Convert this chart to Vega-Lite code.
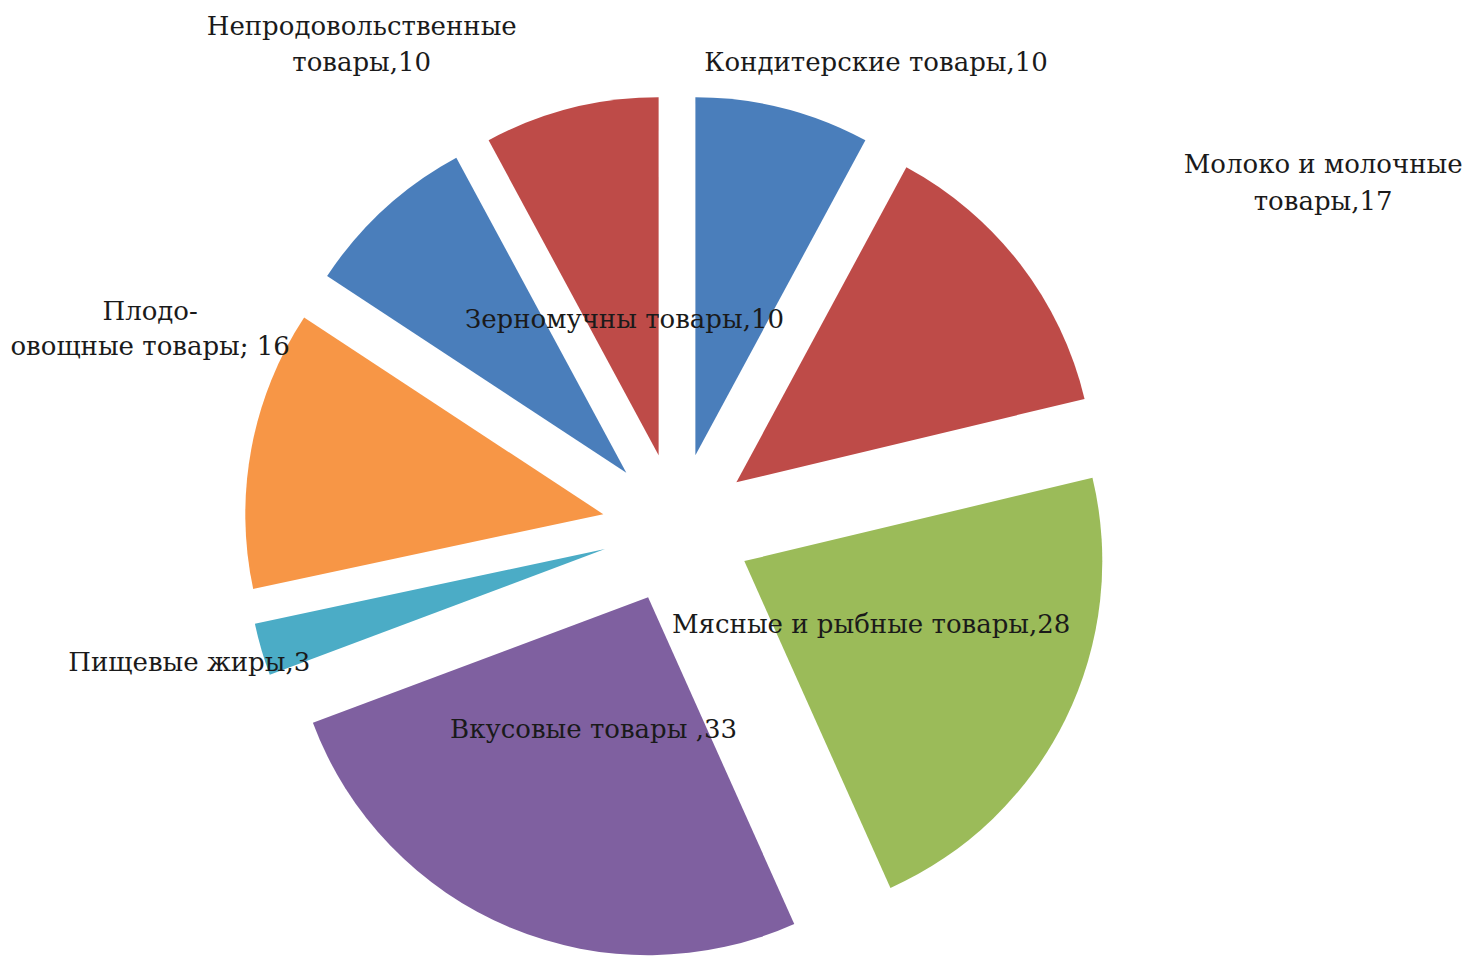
{
  "$schema": "https://vega.github.io/schema/vega-lite/v6.json",
  "width": 1354,
  "height": 866,
  "autosize": {"type": "none"},
  "padding": {"left": 0, "top": 95, "right": 123, "bottom": 0},
  "background": "white",
  "config": {"view": {"stroke": null}},
  "data": {
    "values": [
      {"i": 0, "name": "Кондитерские товары", "value": 10, "label": "Кондитерские товары,10"},
      {"i": 1, "name": "Молоко и молочные товары", "value": 17, "label": "Молоко и молочные\nтовары,17"},
      {"i": 2, "name": "Мясные и рыбные товары", "value": 28, "label": "Мясные и рыбные товары,28"},
      {"i": 3, "name": "Вкусовые товары", "value": 33, "label": "Вкусовые товары ,33"},
      {"i": 4, "name": "Пищевые жиры", "value": 3, "label": "Пищевые жиры,3"},
      {"i": 5, "name": "Плодо-овощные товары", "value": 16, "label": "Плодо-\nовощные товары; 16"},
      {"i": 6, "name": "Непродовольственные товары", "value": 10, "label": "Непродовольственные\nтовары,10"},
      {"i": 7, "name": "Зерномучны товары", "value": 10, "label": "Зерномучны товары,10"}
    ]
  },
  "transform": [
    {"stack": "value", "groupby": [], "sort": [{"field": "i", "order": "ascending"}], "as": ["v0", "v1"]},
    {"calculate": "(datum.v0 + datum.v1) / 2", "as": "mid"}
  ],
  "layer": [
    {"transform": [{"filter": "datum.i == 0"}], "mark": {"type": "arc", "radius": 358, "xOffset": 18.4, "yOffset": -72.7},
     "encoding": {"theta": {"field": "v0", "type": "quantitative", "scale": {"domain": [0, 127]}}, "theta2": {"field": "v1"},
       "color": {"field": "name", "type": "nominal", "legend": null, "scale": {"domain": ["Кондитерские товары","Молоко и молочные товары","Мясные и рыбные товары","Вкусовые товары","Пищевые жиры","Плодо-овощные товары","Непродовольственные товары","Зерномучны товары"], "range": ["#4A7EBB","#BE4B48","#9BBB59","#7F60A0","#4BACC6","#F79646","#4A7EBB","#BE4B48"]}}}},
    {"transform": [{"filter": "datum.i == 1"}], "mark": {"type": "arc", "radius": 358, "xOffset": 59.4, "yOffset": -45.7},
     "encoding": {"theta": {"field": "v0", "type": "quantitative", "scale": {"domain": [0, 127]}}, "theta2": {"field": "v1"},
       "color": {"field": "name", "type": "nominal", "legend": null}}},
    {"transform": [{"filter": "datum.i == 2"}], "mark": {"type": "arc", "radius": 358, "xOffset": 67.3, "yOffset": 33.1},
     "encoding": {"theta": {"field": "v0", "type": "quantitative", "scale": {"domain": [0, 127]}}, "theta2": {"field": "v1"},
       "color": {"field": "name", "type": "nominal", "legend": null}}},
    {"transform": [{"filter": "datum.i == 3"}], "mark": {"type": "arc", "radius": 358, "xOffset": -28.9, "yOffset": 69.2},
     "encoding": {"theta": {"field": "v0", "type": "quantitative", "scale": {"domain": [0, 127]}}, "theta2": {"field": "v1"},
       "color": {"field": "name", "type": "nominal", "legend": null}}},
    {"transform": [{"filter": "datum.i == 4"}], "mark": {"type": "arc", "radius": 358, "xOffset": -72.0, "yOffset": 21.1},
     "encoding": {"theta": {"field": "v0", "type": "quantitative", "scale": {"domain": [0, 127]}}, "theta2": {"field": "v1"},
       "color": {"field": "name", "type": "nominal", "legend": null}}},
    {"transform": [{"filter": "datum.i == 5"}], "mark": {"type": "arc", "radius": 358, "xOffset": -73.7, "yOffset": -13.8},
     "encoding": {"theta": {"field": "v0", "type": "quantitative", "scale": {"domain": [0, 127]}}, "theta2": {"field": "v1"},
       "color": {"field": "name", "type": "nominal", "legend": null}}},
    {"transform": [{"filter": "datum.i == 6"}], "mark": {"type": "arc", "radius": 358, "xOffset": -50.7, "yOffset": -55.3},
     "encoding": {"theta": {"field": "v0", "type": "quantitative", "scale": {"domain": [0, 127]}}, "theta2": {"field": "v1"},
       "color": {"field": "name", "type": "nominal", "legend": null}}},
    {"transform": [{"filter": "datum.i == 7"}], "mark": {"type": "arc", "radius": 358, "xOffset": -18.4, "yOffset": -72.7},
     "encoding": {"theta": {"field": "v0", "type": "quantitative", "scale": {"domain": [0, 127]}}, "theta2": {"field": "v1"},
       "color": {"field": "name", "type": "nominal", "legend": null}}},

    {"transform": [{"filter": "datum.i == 0"}], "mark": {"type": "text", "radius": 506, "thetaOffset": 0.157, "font": "DejaVu Serif", "fontSize": 26, "lineBreak": "\n", "lineHeight": 37, "align": "center", "baseline": "middle", "color": "#1a1a1a"},
     "encoding": {"theta": {"field": "mid", "type": "quantitative", "scale": {"domain": [0, 127]}}, "text": {"field": "label"}}},
    {"transform": [{"filter": "datum.i == 1"}], "mark": {"type": "text", "radius": 741, "thetaOffset": 0.144, "font": "DejaVu Serif", "fontSize": 26, "lineBreak": "\n", "lineHeight": 37, "align": "center", "baseline": "middle", "color": "#1a1a1a"},
     "encoding": {"theta": {"field": "mid", "type": "quantitative", "scale": {"domain": [0, 127]}}, "text": {"field": "label"}}},
    {"transform": [{"filter": "datum.i == 2"}], "mark": {"type": "text", "radius": 217, "thetaOffset": 0.005, "font": "DejaVu Serif", "fontSize": 26, "lineBreak": "\n", "lineHeight": 37, "align": "center", "baseline": "middle", "color": "#1a1a1a"},
     "encoding": {"theta": {"field": "mid", "type": "quantitative", "scale": {"domain": [0, 127]}}, "text": {"field": "label"}}},
    {"transform": [{"filter": "datum.i == 3"}], "mark": {"type": "text", "radius": 218.6, "thetaOffset": -0.004, "font": "DejaVu Serif", "fontSize": 26, "lineBreak": "\n", "lineHeight": 37, "align": "center", "baseline": "middle", "color": "#1a1a1a"},
     "encoding": {"theta": {"field": "mid", "type": "quantitative", "scale": {"domain": [0, 127]}}, "text": {"field": "label"}}},
    {"transform": [{"filter": "datum.i == 4"}], "mark": {"type": "text", "radius": 506, "thetaOffset": 0.0147, "font": "DejaVu Serif", "fontSize": 26, "lineBreak": "\n", "lineHeight": 37, "align": "center", "baseline": "middle", "color": "#1a1a1a"},
     "encoding": {"theta": {"field": "mid", "type": "quantitative", "scale": {"domain": [0, 127]}}, "text": {"field": "label"}}},
    {"transform": [{"filter": "datum.i == 5"}], "mark": {"type": "text", "radius": 569.5, "thetaOffset": 0.204, "font": "DejaVu Serif", "fontSize": 26, "lineBreak": "\n", "lineHeight": 35, "align": "center", "baseline": "middle", "color": "#1a1a1a"},
     "encoding": {"theta": {"field": "mid", "type": "quantitative", "scale": {"domain": [0, 127]}}, "text": {"field": "label"}}},
    {"transform": [{"filter": "datum.i == 6"}], "mark": {"type": "text", "radius": 592, "thetaOffset": 0.1805, "font": "DejaVu Serif", "fontSize": 26, "lineBreak": "\n", "lineHeight": 36, "align": "center", "baseline": "middle", "color": "#1a1a1a"},
     "encoding": {"theta": {"field": "mid", "type": "quantitative", "scale": {"domain": [0, 127]}}, "text": {"field": "label"}}},
    {"transform": [{"filter": "datum.i == 7"}], "mark": {"type": "text", "radius": 214.5, "thetaOffset": 0, "font": "DejaVu Serif", "fontSize": 26, "lineBreak": "\n", "lineHeight": 37, "align": "center", "baseline": "middle", "color": "#1a1a1a"},
     "encoding": {"theta": {"field": "mid", "type": "quantitative", "scale": {"domain": [0, 127]}}, "text": {"field": "label"}}}
  ]
}
